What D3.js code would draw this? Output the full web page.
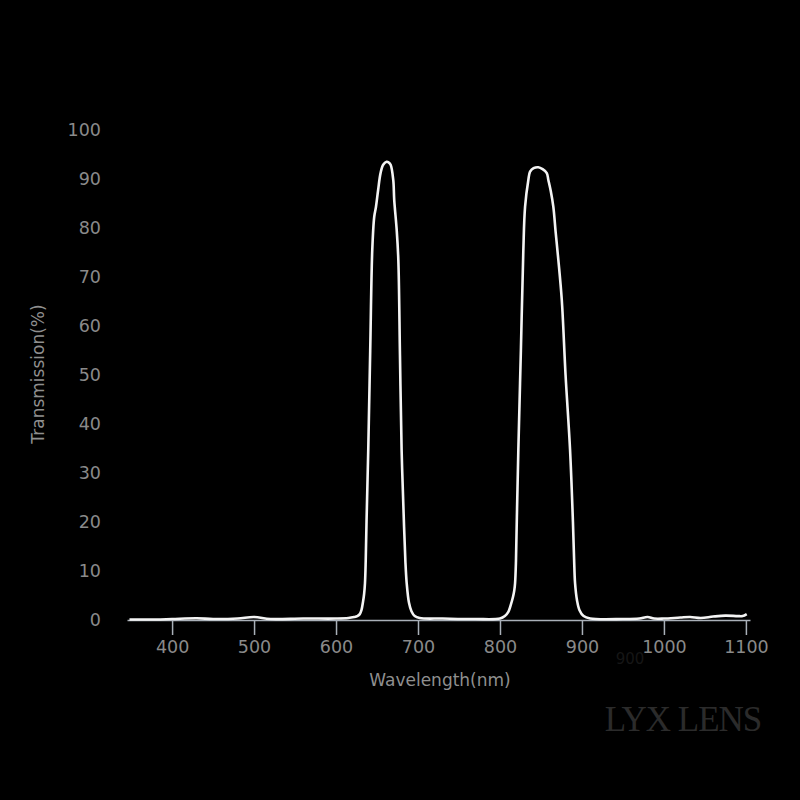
<!DOCTYPE html>
<html>
<head>
<meta charset="utf-8">
<script src="https://cdn.jsdelivr.net/npm/d3@7"></script>
<style>
  body { margin: 0; background: #000; }
  svg { display: block; }
</style>
</head>
<body>
<div id="chart"></div>
<script>
// transmission curve
var wavelength = [348, 380, 400, 430, 450, 480, 500, 520, 560, 600, 615, 622, 626, 629, 631, 633, 634.3, 635.3, 636.2, 637.2, 639.3, 641.7,
  644.2, 646.6, 648.7, 651.4, 654.3, 657.5, 661.7, 664, 666.6, 669.8, 671, 674, 676, 678, 680, 683, 684.6, 686.2, 689, 692, 696,
  702, 730, 770, 800, 806, 810, 813, 816, 817.4, 818.4, 819.5, 820.6, 822.4, 825.5, 828.5, 830.6, 834.6, 836.7, 841, 846.8, 852, 857.1,
  859, 862, 865.1, 868, 871.2, 875.4, 880, 885.5, 889, 890.4, 891.6, 894, 897, 902, 910, 950, 970, 980, 988, 1000, 1020,
  1032, 1045, 1060, 1075, 1090, 1096, 1101];
var transmission = [0.1, 0.1, 0.2, 0.35, 0.2, 0.3, 0.6, 0.2, 0.3, 0.3, 0.4, 0.6, 0.8, 1.2, 2, 3.8, 5.4, 7.5, 12, 20, 34.7, 55,
  75.5, 82.3, 84.3, 87.8, 91.2, 92.9, 93.5, 93.4, 92.9, 89.8, 85.7, 79.6, 73.5, 54, 34.7, 19, 12, 7.5, 3.5, 1.8, 0.8,
  0.4, 0.3, 0.2, 0.3, 0.8, 1.6, 3, 4.8, 6, 7.5, 12, 21, 34.7, 55, 75.5, 84.3, 89.8, 91.5, 92.2, 92.4, 92, 91.2,
  89.8, 87.5, 84.3, 79, 73.5, 65.3, 50, 34.7, 20, 12.5, 7.5, 4, 2, 0.8, 0.3, 0.2, 0.3, 0.6, 0.3, 0.3, 0.5,
  0.6, 0.4, 0.7, 0.9, 0.8, 0.8, 1.2];
var xTicks = [400, 500, 600, 700, 800, 900, 1000, 1100];
var yTicks = [0, 10, 20, 30, 40, 50, 60, 70, 80, 90, 100];

var width = 800, height = 800;
var data = wavelength.map(function(d, i) { return {wl: d, t: transmission[i]}; });

var x = d3.scaleLinear().domain([345, 1105]).range([127, 750]),
    y = d3.scaleLinear().domain([0, 100]).range([620, 130]);

var svg = d3.select("#chart").append("svg")
    .attr("width", width).attr("height", height)
    .style("background", "#000");

// x axis
var xAxis = svg.append("g")
    .attr("transform", "translate(0,620)")
    .call(d3.axisBottom(x).tickValues(xTicks).tickFormat(d3.format("d"))
      .tickSize(15).tickSizeOuter(0).tickPadding(6));
xAxis.select(".domain").attr("stroke", "#a9b0b8").attr("stroke-width", 1.5);
xAxis.selectAll(".tick line").attr("stroke", "#a9b0b8").attr("stroke-width", 1.5);
xAxis.selectAll(".tick text")
    .attr("fill", "#8a8a8a")
    .style("font-family", "DejaVu Sans")
    .style("font-size", "17.5px");

// y axis (labels only)
var yAxis = svg.append("g")
    .attr("transform", "translate(101,0)")
    .call(d3.axisLeft(y).tickValues(yTicks).tickSize(0).tickPadding(0));
yAxis.select(".domain").remove();
yAxis.selectAll(".tick text")
    .attr("fill", "#8a8a8a")
    .style("font-family", "DejaVu Sans")
    .style("font-size", "17.5px");

svg.append("text")
    .attr("x", 440).attr("y", 686)
    .attr("text-anchor", "middle")
    .attr("fill", "#8f8f8f")
    .style("font-family", "DejaVu Sans")
    .style("font-size", "17px")
    .text("Wavelength(nm)");

svg.append("text")
    .attr("transform", "translate(44,374) rotate(-90)")
    .attr("text-anchor", "middle")
    .attr("fill", "#8f8f8f")
    .style("font-family", "DejaVu Sans")
    .style("font-size", "17px")
    .text("Transmission(%)");

// the curve
var line = d3.line()
    .x(function(d) { return x(d.wl); })
    .y(function(d) { return y(d.t); })
    .curve(d3.curveCatmullRom.alpha(0.5));

svg.append("path")
    .datum(data)
    .attr("d", line)
    .attr("fill", "none")
    .attr("stroke", "#f4f4f4")
    .attr("stroke-width", 2.6)
    .attr("stroke-linejoin", "round");

// faint ghost text and watermark
svg.append("text")
    .attr("x", 630).attr("y", 664)
    .attr("text-anchor", "middle")
    .attr("fill", "#161616")
    .style("font-family", "DejaVu Sans")
    .style("font-size", "15px")
    .text("900");

svg.append("text")
    .attr("x", 683).attr("y", 731)
    .attr("text-anchor", "middle")
    .attr("fill", "#2b2b2b")
    .style("font-family", "Liberation Serif")
    .style("font-size", "35px")
    .style("letter-spacing", "-1px")
    .text("LYX LENS");
</script>
</body>
</html>
